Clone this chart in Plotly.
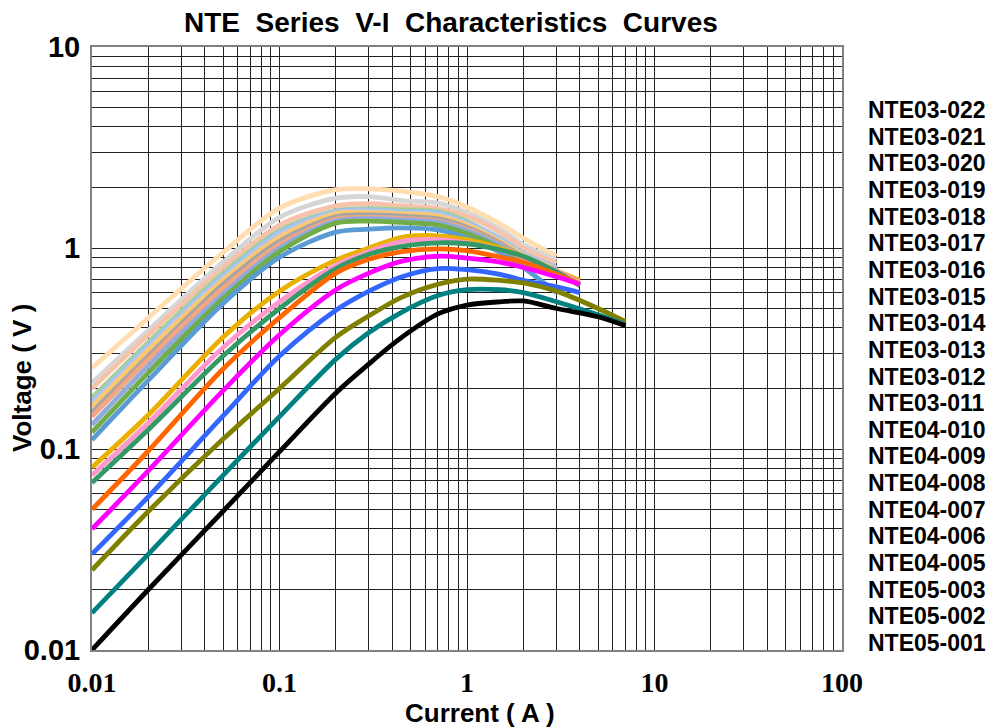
import plotly.graph_objects as go

# ---------------- data ----------------
x_nte05 = [0.01, 0.02, 0.05, 0.1, 0.2, 0.3, 0.45, 0.7, 1, 1.5, 2, 3, 5, 7]
v_nte05_001 = [0.01, 0.02, 0.049, 0.097, 0.19, 0.265, 0.36, 0.47, 0.52, 0.54, 0.545, 0.5, 0.455, 0.41]
v_nte05_002 = [0.0153, 0.03, 0.074, 0.145, 0.28, 0.38, 0.48, 0.58, 0.62, 0.62, 0.6, 0.54, 0.465, 0.415]
v_nte05_003 = [0.025, 0.049, 0.112, 0.2, 0.36, 0.46, 0.57, 0.66, 0.70, 0.69, 0.67, 0.61, 0.5, 0.43]

x_nte04 = [0.01, 0.02, 0.05, 0.1, 0.2, 0.3, 0.45, 0.7, 1, 1.5, 2, 3, 4]
v_nte04_005 = [0.03, 0.058, 0.146, 0.29, 0.49, 0.61, 0.72, 0.79, 0.78, 0.74, 0.69, 0.64, 0.6]
v_nte04_006 = [0.04, 0.078, 0.195, 0.37, 0.62, 0.75, 0.86, 0.91, 0.89, 0.85, 0.8, 0.72, 0.66]
v_nte04_007 = [0.05, 0.098, 0.25, 0.45, 0.75, 0.88, 0.96, 0.99, 0.97, 0.9, 0.85, 0.74, 0.66]
v_nte04_008 = [0.068, 0.125, 0.29, 0.5, 0.79, 0.93, 1.02, 1.06, 1.05, 0.98, 0.91, 0.76, 0.65]
v_nte04_009 = [0.074, 0.135, 0.32, 0.54, 0.82, 0.96, 1.08, 1.1, 1.06, 0.98, 0.9, 0.77, 0.67]
v_nte04_010 = [0.081, 0.148, 0.36, 0.61, 0.87, 1.0, 1.13, 1.15, 1.1, 1.0, 0.9, 0.77, 0.69]

x_nte03 = [0.01, 0.02, 0.05, 0.1, 0.2, 0.3, 0.45, 0.7, 1, 1.5, 2, 3]
v_nte03_011 = [0.111, 0.22, 0.53, 0.9, 1.2, 1.24, 1.26, 1.23, 1.12, 0.95, 0.8, 0.6]
v_nte03_012 = [0.121, 0.24, 0.56, 0.96, 1.33, 1.36, 1.34, 1.3, 1.18, 1.0, 0.85, 0.73]
v_nte03_013 = [0.132, 0.26, 0.59, 1.0, 1.36, 1.4, 1.38, 1.34, 1.22, 1.03, 0.88, 0.78]
v_nte03_014 = [0.145, 0.28, 0.63, 1.04, 1.39, 1.42, 1.4, 1.36, 1.24, 1.04, 0.89, 0.76]
v_nte03_015 = [0.152, 0.29, 0.66, 1.08, 1.43, 1.46, 1.44, 1.4, 1.27, 1.06, 0.9, 0.77]
v_nte03_016 = [0.162, 0.31, 0.69, 1.13, 1.48, 1.5, 1.48, 1.44, 1.3, 1.08, 0.92, 0.78]
v_nte03_017 = [0.168, 0.32, 0.71, 1.17, 1.5, 1.53, 1.5, 1.47, 1.32, 1.1, 0.93, 0.79]
v_nte03_018 = [0.172, 0.33, 0.73, 1.2, 1.52, 1.55, 1.52, 1.5, 1.34, 1.12, 0.94, 0.8]
v_nte03_019 = [0.18, 0.34, 0.75, 1.22, 1.53, 1.57, 1.55, 1.52, 1.36, 1.1, 0.92, 0.74]
v_nte03_020 = [0.2, 0.37, 0.8, 1.3, 1.62, 1.66, 1.62, 1.57, 1.44, 1.2, 1.0, 0.84]
v_nte03_021 = [0.213, 0.39, 0.85, 1.42, 1.77, 1.8, 1.72, 1.67, 1.5, 1.24, 1.04, 0.87]
v_nte03_022 = [0.253, 0.45, 0.95, 1.58, 1.95, 1.97, 1.92, 1.8, 1.6, 1.32, 1.12, 0.91]

series_names = ["NTE03-022", "NTE03-021", "NTE03-020", "NTE03-019", "NTE03-018", "NTE03-017",
                "NTE03-016", "NTE03-015", "NTE03-014", "NTE03-013", "NTE03-012", "NTE03-011",
                "NTE04-010", "NTE04-009", "NTE04-008", "NTE04-007", "NTE04-006", "NTE04-005",
                "NTE05-003", "NTE05-002", "NTE05-001"]

x_tick_vals = [0.01, 0.1, 1, 10, 100]
x_tick_text = ["0.01", "0.1", "1", "10", "100"]
y_tick_vals = [0.01, 0.1, 1, 10]
y_tick_text = ["0.01", "0.1", "1", "10"]

# ---------------- styling ----------------
series = [
    ("NTE03-022", x_nte03, v_nte03_022, "#FFDDB0"),
    ("NTE03-021", x_nte03, v_nte03_021, "#D6D6D6"),
    ("NTE03-020", x_nte03, v_nte03_020, "#F6C3AA"),
    ("NTE03-019", x_nte03, v_nte03_019, "#A9D18E"),
    ("NTE03-018", x_nte03, v_nte03_018, "#9DC3E6"),
    ("NTE03-017", x_nte03, v_nte03_017, "#B4C7E7"),
    ("NTE03-016", x_nte03, v_nte03_016, "#FFC870"),
    ("NTE03-015", x_nte03, v_nte03_015, "#A5A5A5"),
    ("NTE03-014", x_nte03, v_nte03_014, "#F4A582"),
    ("NTE03-013", x_nte03, v_nte03_013, "#8FAADC"),
    ("NTE03-012", x_nte03, v_nte03_012, "#70AD47"),
    ("NTE03-011", x_nte03, v_nte03_011, "#5B9BD5"),
    ("NTE04-010", x_nte04, v_nte04_010, "#E9B000"),
    ("NTE04-009", x_nte04, v_nte04_009, "#FF99CC"),
    ("NTE04-008", x_nte04, v_nte04_008, "#339966"),
    ("NTE04-007", x_nte04, v_nte04_007, "#FF6600"),
    ("NTE04-006", x_nte04, v_nte04_006, "#FF00FF"),
    ("NTE04-005", x_nte04, v_nte04_005, "#3366FF"),
    ("NTE05-003", x_nte05, v_nte05_003, "#808000"),
    ("NTE05-002", x_nte05, v_nte05_002, "#008080"),
    ("NTE05-001", x_nte05, v_nte05_001, "#000000"),
]

fig = go.Figure()
for name, xs, ys, col in series:
    fig.add_trace(go.Scatter(
        x=xs, y=ys, name=name, mode="lines",
        line=dict(color=col, width=4.8, shape="spline", smoothing=0.9),
        showlegend=False,
    ))

sans = "Liberation Sans, Arial, sans-serif"
serif = "Liberation Serif, Times New Roman, serif"

minor_x = [m * 10 ** e for e in range(-2, 2) for m in range(2, 10)]
minor_y = [m * 10 ** e for e in range(-2, 1) for m in range(2, 10)]

fig.update_xaxes(
    type="log", range=[-2, 2],
    tickvals=x_tick_vals, ticktext=x_tick_text,
    tickfont=dict(family=serif, size=28, color="black", weight="bold"),
    ticks="", ticklabelstandoff=6,
    showgrid=True, gridcolor="#222222", gridwidth=1,
    minor=dict(tickvals=minor_x, showgrid=True, gridcolor="#222222", gridwidth=1),
    showline=True, linecolor="#808080", linewidth=2, mirror=True,
    zeroline=False,
)
fig.update_yaxes(
    type="log", range=[-2, 1],
    tickvals=y_tick_vals, ticktext=y_tick_text,
    tickfont=dict(family=sans, size=29, color="black", weight="bold"),
    ticks="", ticklabelstandoff=4,
    showgrid=True, gridcolor="#222222", gridwidth=1,
    minor=dict(tickvals=minor_y, showgrid=True, gridcolor="#222222", gridwidth=1),
    showline=True, linecolor="#808080", linewidth=2, mirror=True,
    zeroline=False,
)

# page body has an 8px margin, so the figure is shifted by 8px
OFF = 8
L, R, T, B = 92 - OFF, 154, 47 - OFF, 77
W, H = 996 - OFF, 727 - OFF
PW, PH = 750, 603


def px(xp):
    return (xp - 92) / PW


def py(yp):
    return (650 - yp) / PH


annotations = [
    dict(text="NTE\u00a0 Series\u00a0 V-I\u00a0 Characteristics\u00a0 Curves",
         x=px(451), y=py(23), xref="paper", yref="paper", showarrow=False,
         font=dict(family=sans, size=28, color="black", weight="bold"),
         xanchor="center", yanchor="middle"),
    dict(text="Current ( A )", x=px(480), y=py(713), xref="paper", yref="paper",
         showarrow=False, font=dict(family=sans, size=26, color="black", weight="bold"),
         xanchor="center", yanchor="middle"),
    dict(text="Voltage ( V )", x=px(22), y=py(378), xref="paper", yref="paper",
         showarrow=False, textangle=-90,
         font=dict(family=sans, size=26, color="black", weight="bold"),
         xanchor="center", yanchor="middle"),
]
for i, name in enumerate(series_names):
    annotations.append(dict(
        text=name, x=px(866), y=py(110 + i * 26.65), xref="paper", yref="paper",
        showarrow=False, xanchor="left", yanchor="middle",
        font=dict(family=sans, size=23, color="black", weight="bold"),
    ))

fig.update_layout(
    width=W, height=H,
    margin=dict(l=L, r=R, t=T, b=B),
    paper_bgcolor="white", plot_bgcolor="white",
    annotations=annotations,
    showlegend=False,
)

fig.write_html("out.html")
